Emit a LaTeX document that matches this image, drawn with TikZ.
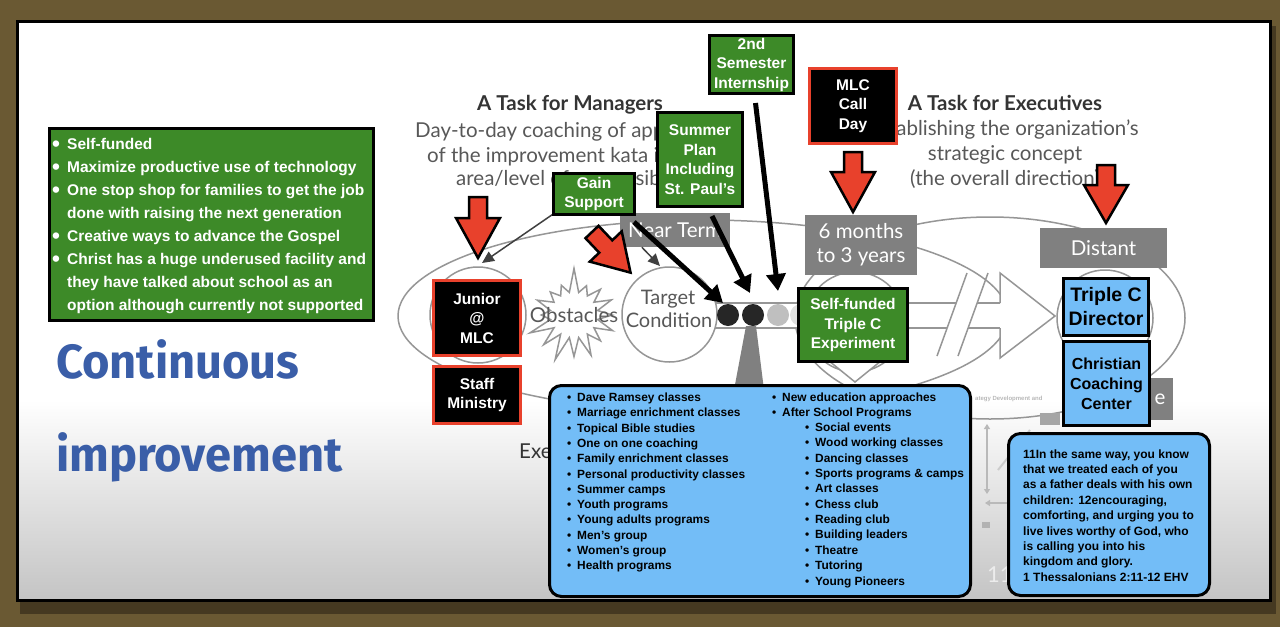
\documentclass[tikz,border=0pt]{standalone}
\usepackage{fontspec}
\usepackage{graphicx}
\setmainfont{Liberation Sans}
\newfontfamily\katafont{Lato}
\newfontfamily\cifont{Fira Sans}
\usetikzlibrary{arrows.meta,shapes.symbols,calc}
\definecolor{olivebg}{RGB}{106,89,51}
\definecolor{boxgreen}{RGB}{61,138,40}
\definecolor{boxblue}{RGB}{115,189,247}
\definecolor{arrred}{RGB}{232,65,44}
\definecolor{kgrey}{RGB}{128,128,128}
\definecolor{ktext}{RGB}{88,88,88}
\definecolor{ktitlecol}{RGB}{52,52,52}
\definecolor{ciblue}{RGB}{58,94,168}
\definecolor{klines}{RGB}{150,150,150}
\definecolor{panelgrey}{RGB}{196,196,196}
\tikzset{
  greenbox/.style={draw=black, line width=3pt, fill=boxgreen, text=white, font=\bfseries\fontsize{15.5}{19.5}\selectfont, align=center, inner sep=0pt},
  blackbox/.style={draw=arrred, line width=2.5pt, fill=black, text=white, font=\bfseries\fontsize{15.5}{19.5}\selectfont, align=center, inner sep=0pt},
  bluebox/.style={draw=black, line width=3pt, fill=boxblue, text=black, align=center, inner sep=0pt},
  roundbox/.style={draw=black, line width=3pt, fill=boxblue, rounded corners=12pt, inner sep=0pt},
  greylabel/.style={fill=kgrey, text=white, font=\katafont\fontsize{20.5}{24}\selectfont, align=center, inner sep=0pt},
  ktitle/.style={text=ktitlecol, font=\katafont\bfseries\fontsize{20.5}{24}\selectfont, inner sep=0pt, anchor=base},
  kbody/.style={text=ktext, font=\katafont\fontsize{20.5}{24}\selectfont, inner sep=0pt},
  kline/.style={draw=klines, line width=1.5pt},
  blackarr/.style={line width=5pt, -{Triangle[length=17pt,width=19pt]}},
  thinarr/.style={draw=black!75, line width=1.5pt, -{Triangle[length=12pt,width=11pt]}},
  redarr/.style={draw=black, line width=2.5pt, fill=arrred, line join=miter},
  listtxt/.style={font=\bfseries\fontsize{11.9}{14}\selectfont, inner sep=0pt, anchor=base west},
  quotetxt/.style={font=\bfseries\fontsize{12}{14}\selectfont, inner sep=0pt, anchor=base west},
  gtxt/.style={text=white, font=\bfseries\fontsize{15.5}{19}\selectfont, inner sep=0pt, anchor=base west},
  citxt/.style={text=ciblue, font=\cifont\bfseries\fontsize{48}{50}\selectfont, inner sep=0pt, anchor=base west},
}
\newcommand{\redarrow}[4]{%
  \begin{scope}[shift={(#1)},rotate=#2]
    \draw[redarr] (0,-9) -- ({#3-#4},-9) -- ({#3-#4},-22) -- (#3,0) -- ({#3-#4},22) -- ({#3-#4},9) -- (0,9) -- cycle;
  \end{scope}}
\newcommand{\bl}{\makebox[10pt][l]{\textbullet}}
\newcommand{\gb}{\makebox[15pt][l]{\raisebox{-2.2pt}{\scalebox{1.45}{\textbullet}}}}
\begin{document}
\begin{tikzpicture}[x=1pt,y=-1pt]
\useasboundingbox (0,0) rectangle (1280,627);
% frame
\fill[olivebg] (0,0) rectangle (1280,627);
\fill[black, opacity=0.35] (20,26) rectangle (1276,614);
\fill[white] (17,21) rectangle (1270,400);
\shade[top color=white, bottom color=panelgrey] (17,400) rectangle (1270,600);
\draw[black, line width=3pt] (17,21) rectangle (1270,600);

% ---- background kata diagram ----
\draw[kline] (703,316) ellipse [x radius=305, y radius=96];
\draw[kline] (990,318) ellipse [x radius=195, y radius=101];
\draw[kline, fill=white] (478,315) circle [radius=48];
\draw[kline, fill=white] (1105,318) circle [radius=48];
\draw[kline, fill=white] (855,322) circle [radius=50];
\draw[kline, fill=white] (818,352) -- (855,382) -- (892,352);
% channel
\fill[white] (715,303) rectangle (1000,328);
\draw[kline] (715,303) -- (956,303) (977,303) -- (1000,303);
\draw[kline] (715,328) -- (947,328) (968,328) -- (1000,328);
\draw[kline] (937,356) -- (967,273);
\draw[kline] (958,356) -- (988,273);
\draw[kline, fill=white, line join=miter] (1000,303) -- (1000,273) -- (1055,316) -- (1000,358) -- (1000,328);
% target circle and obstacles
\draw[kline, fill=white] (669.5,314.5) circle [radius=47.5];
\node[shape=starburst, draw=klines, line width=1.5pt, fill=white, minimum width=100pt, minimum height=98pt, starburst points=16, starburst point height=26pt, random starburst=7] (burst) at (574,315) {};
\node[kbody, anchor=base, font=\katafont\fontsize{20.5}{24}\selectfont] (obst) at (574,322) {Obstacles};
\node[kbody, anchor=base, font=\katafont\fontsize{20}{24}\selectfont] (targ1) at (668,304) {Target};
\node[kbody, anchor=base, font=\katafont\fontsize{20}{24}\selectfont] (targ2) at (669,327) {Condition};
% dots
\fill[gray!25] (801,315) circle [radius=11];
\fill[gray!50] (778,315) circle [radius=11];
\node[circle, fill=black!85, minimum size=22pt, inner sep=0pt] (dot2) at (753,315) {};
\node[circle, fill=black!85, minimum size=22pt, inner sep=0pt] (dot1) at (728,315) {};
% pointer to list
\fill[kgrey] (746,326) -- (756,326) -- (764,390) -- (734,390) -- cycle;
% grey labels
\node[greylabel, minimum width=110pt, minimum height=34pt] (nearterm) at (675,230) {Near Term};
\node[greylabel, minimum width=112pt, minimum height=60pt] (sixm) at (861,245) {6 months\\to 3 years};
\node[greylabel, minimum width=127pt, minimum height=40pt] (distant) at (1103.5,248) {Distant};
\node[greylabel, minimum width=34pt, minimum height=42pt, text depth=0pt] (chal) at (1156,399) {\hspace*{8pt}e};
% titles
\node[ktitle] (tman) at (570,110) {A Task for Managers};
\node[kbody, anchor=base west] (m1) at (415,137) {Day-to-day coaching of application};
\node[kbody, anchor=base west] (m2) at (427,162) {of the improvement kata in each};
\node[kbody, anchor=base west] (m3) at (456,185) {area/level of responsibility};
\node[ktitle] (texe) at (1005,110) {A Task for Executives};
\node[kbody, anchor=base east] (e1) at (1139,135) {Establishing the organization’s};
\node[kbody, anchor=base] (e2) at (1005,160) {strategic concept};
\node[kbody, anchor=base] (e3) at (1005,185) {(the overall direction)};
\node[text=ktitlecol, font=\katafont\fontsize{20.5}{24}\selectfont, inner sep=0pt, anchor=base west] (exe) at (519,458) {Exe};
\node[text=white!85!gray, font=\katafont\fontsize{22}{24}\selectfont, inner sep=0pt, anchor=base west] (slno) at (987,582) {11};
% faded picture
\node[text=gray!55, font=\bfseries\fontsize{6}{7}\selectfont, inner sep=0pt, anchor=base west] (fade) at (975,400) {ategy Development and};
\draw[gray!55, line width=2pt, {Triangle[length=5pt,width=6pt]}-{Triangle[length=5pt,width=6pt]}] (987,424) -- (987,494);
\draw[gray!55, line width=2pt, -{Triangle[length=5pt,width=6pt]}] (1007,503) -- (985,503);
\fill[gray!70] (1040,413) rectangle (1060,425);
\fill[gray!60] (982,522) rectangle (990,528);
\draw[gray!40, line width=2pt] (998,470) -- (1030,430);
% thin arrows
\coordinate (gs0) at (575,199);
\coordinate (jtop) at (482,263);
\draw[thinarr] (gs0) -- (jtop);
\coordinate (ttop) at (660,266);
\draw[thinarr] (nearterm.south west) ++(22,0) -- (ttop);

% ---- foreground ----
% left green list
\node[greenbox, minimum width=324pt, minimum height=192pt] (goals) at (211.5,224.5) {};
\node[gtxt] (g1) at (52,149) {\gb Self-funded};
\node[gtxt] (g2) at (52,172) {\gb Maximize productive use of technology};
\node[gtxt] (g3) at (52,195) {\gb One stop shop for families to get the job};
\node[gtxt] (g4) at (67,218) {done with raising the next generation};
\node[gtxt] (g5) at (52,241) {\gb Creative ways to advance the Gospel};
\node[gtxt] (g6) at (52,264) {\gb Christ has a huge underused facility and};
\node[gtxt] (g7) at (67,287) {they have talked about school as an};
\node[gtxt] (g8) at (67,310) {option although currently not supported};
% Continuous improvement
\node[citxt] (cont) at (56,378) {\scalebox{0.98}[1]{Continuous}};
\node[citxt] (impr) at (56,471) {\scalebox{0.98}[1]{improvement}};

% black boxes
\node[blackbox, minimum width=87pt, minimum height=75pt] (junior) at (477,318) {Junior\\@\\MLC};
\node[blackbox, minimum width=87pt, minimum height=57pt] (staff) at (477,395) {Staff\\Ministry};
\node[blackbox, minimum width=87pt, minimum height=75pt] (mlc) at (853,106) {MLC\\Call\\Day};

% red arrows
\redarrow{478,197}{-90}{61}{40}
\redarrow{592,232}{-46.5}{56}{36}
\redarrow{853,152}{-90}{60}{40}
\redarrow{1106,165}{-90}{58}{38}

% green boxes
\node[greenbox, minimum width=81pt, minimum height=41pt] (gain) at (594,194) {Gain\\Support};
\node[greenbox, minimum width=85pt, minimum height=94pt] (summer) at (700,159.5) {Summer\\Plan\\Including\\St. Paul’s};
\node[greenbox, minimum width=84pt, minimum height=58pt] (sem) at (751.5,64.5) {2nd\\Semester\\Internship};
\node[greenbox, minimum width=109pt, minimum height=73pt] (selff) at (853,325) {Self-funded\\Triple C\\Experiment};

% black arrows to the dots
\coordinate (t1) at (723,303);
\coordinate (t2) at (750,293);
\coordinate (t3) at (778,291);
\draw[blackarr] ($(gain.south east)+(-2,6)$) -- (t1);
\draw[blackarr] ($(summer.south)+(12,8)$) -- (t2);
\draw[blackarr] ($(sem.south)+(4,8)$) -- (t3);

% blue boxes right
\node[bluebox, minimum width=85pt, minimum height=57pt, font=\bfseries\fontsize{19.5}{24}\selectfont] (triple) at (1106,307) {Triple C\\Director};
\node[bluebox, minimum width=86pt, minimum height=84pt, font=\bfseries\fontsize{16}{20}\selectfont] (ccc) at (1106.5,383.5) {Christian\\Coaching\\Center};

% list box
\node[roundbox, minimum width=421pt, minimum height=211pt] (list) at (760,491) {};
\foreach \t [count=\i] in {Dave Ramsey classes, Marriage enrichment classes, Topical Bible studies, One on one coaching, Family enrichment classes, Personal productivity classes, Summer camps, Youth programs, Young adults programs, Men’s group, Women’s group, Health programs}
  \node[listtxt, name=la\i] at (567,{401.5+15.3*(\i-1)}) {\bl\t};
\node[listtxt] (rb1) at (772,401) {\bl New education approaches};
\node[listtxt] (rb2) at (772,416.3) {\bl After School Programs};
\foreach \t [count=\i] in {Social events, Wood working classes, Dancing classes, Sports programs \& camps, Art classes, Chess club, Reading club, Building leaders, Theatre, Tutoring, Young Pioneers}
  \node[listtxt, name=rc\i] at (805,{431.6+15.34*(\i-1)}) {\bl\t};

% quote box
\node[roundbox, minimum width=201pt, minimum height=162pt] (quote) at (1109,514.5) {};
\foreach \t [count=\i] in {{11In the same way, you know}, {that we treated each of you}, {as a father deals with his own}, {children: 12encouraging,}, {comforting, and urging you to}, {live lives worthy of God, who}, {is calling you into his}, {kingdom and glory.}, {1 Thessalonians 2:11-12 EHV}}
  \node[quotetxt, name=q\i] at (1023,{458+15.4*(\i-1)}) {\t};
\end{tikzpicture}
\end{document}
